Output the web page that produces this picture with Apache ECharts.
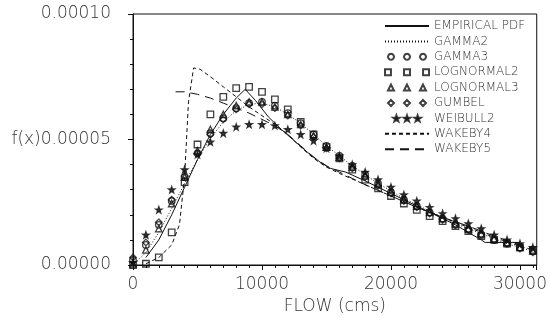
<!DOCTYPE html>
<html>
<head>
<meta charset="utf-8">
<script src="https://cdn.jsdelivr.net/npm/echarts@6/dist/echarts.min.js"></script>
<style>
  html, body { margin: 0; padding: 0; background: #fff; }
  #chart { width: 550px; height: 327px; }
</style>
</head>
<body>
<div id="chart"></div>
<script>
// flow grid (cms) for the fitted distributions, values below are f(x) in units of 1e-6
const flowGrid = [0, 1000, 2000, 3000, 4000, 5000, 6000, 7000, 8000, 9000, 10000,
  11000, 12000, 13000, 14000, 15000, 16000, 17000, 18000, 19000, 20000,
  21000, 22000, 23000, 24000, 25000, 26000, 27000, 28000, 29000, 30000, 31000];

const gamma2 = [0, 5, 13, 22.5, 32.5, 42, 50.5, 57, 61.5, 64, 64.5, 63, 60, 56.5, 52, 47.5,
  43.5, 39.5, 36, 32.5, 29.5, 26.5, 24, 21.5, 19, 16.5, 14.5, 12.5, 10.5, 8.5, 7, 5.5];
const gamma3 = [2, 8, 16, 25.5, 35, 44.5, 52.5, 58.5, 62.5, 64.5, 65, 63.5, 60.5, 56.5, 52, 47.5,
  43.5, 39.5, 36, 32.5, 29, 26, 23.5, 21, 18.5, 16, 14, 12, 10, 8.5, 7, 5.5];
const lognormal2 = [0, 0.5, 3, 13, 33, 48, 60, 67, 70.5, 71, 69, 66, 62, 57, 52, 47,
  42.5, 38, 34, 30.5, 27.5, 24.5, 22, 19.5, 17.5, 15.5, 13.5, 11.5, 10, 8.5, 7, 6];
const lognormal3 = [0.5, 6, 14.5, 24.5, 35, 45.5, 54, 60, 63.5, 65, 65, 63, 60, 56, 51.5, 47,
  43, 39, 35.5, 32, 29, 26, 23.5, 21, 18.5, 16.5, 14.5, 12.5, 10.5, 9, 7, 5.5];
const gumbel = [3, 9, 17, 26, 35.5, 44.5, 52, 58, 62, 64, 64, 62.5, 59.5, 55.5, 51, 46.5,
  42.5, 38.5, 35, 31.5, 28.5, 25.5, 23, 20.5, 18, 16, 14, 12, 10, 8.5, 6.5, 5];
const weibull2 = [1, 12, 22, 30, 38, 44, 49, 52.5, 55, 56, 56, 55.5, 54, 52, 49.5, 46.5,
  43.5, 40, 37, 34, 31, 28, 25.5, 23, 20.5, 18.5, 16.5, 14.5, 12, 10, 8.5, 7];

const empiricalFlow = [1000, 2000, 3000, 4000, 5000, 6000, 7000, 8000, 8700, 9500, 10500, 11500,
  12500, 13500, 14500, 15300, 16500, 18000, 19000, 20000, 21000, 22000, 23000, 24000, 25000,
  26000, 27000, 27300, 30000];
const empirical = [3, 10, 20, 31, 42, 52, 60, 66.5, 70, 65.5, 59, 54, 49.5, 45, 41, 38.5,
  37, 33.5, 31, 28.5, 26, 23.5, 21, 18.5, 16, 13, 10, 9, 9];

const wakeby4Flow = [1000, 2000, 3000, 3600, 4000, 4300, 4700, 5200, 6000, 7000, 8000, 9000,
  10000, 11000, 12000, 13000, 14000, 15000, 16000, 18000, 20000, 22000, 24000, 26000, 28000,
  30000, 31000];
const wakeby4 = [0.5, 3, 8, 16, 35, 65, 78.5, 78, 75, 71, 67, 63, 59.5, 56, 52, 47, 42.5, 39,
  36.5, 32, 27.5, 23, 19, 15, 11, 7.5, 6];

const wakeby5Flow = [3300, 4000, 5000, 6000, 7000, 8000, 9000, 10000, 11000, 12000, 13000,
  14000, 15000, 16000, 17000, 18000, 20000, 22000, 24000, 26000, 28000, 30000, 31000];
const wakeby5 = [69, 69, 68, 66.5, 64.5, 62.5, 60.5, 58, 55.5, 52, 47.5, 43, 39.5, 37, 34.5,
  32, 27.5, 23, 19, 15.5, 11.5, 8, 6.5];

const yTicks = [0, 0.00005, 0.0001];
const xTicks = [0, 10000, 20000, 30000];

const pairs = (xs, ys) => xs.map((x, i) => [x, ys[i] * 1e-6]);

const star = "M5,0L6.18,3.38L9.76,3.45L6.9,5.62L7.94,9.05L5,7L2.06,9.05L3.1,5.62L0.24,3.45L3.82,3.38Z";
const triple = (p, dx) => [0, dx, dx * 2].map((o) =>
  p.replace(/([ML])([\d.]+),/g, (m, c, x) => c + (parseFloat(x) + o).toFixed(2) + ",")).join("");

const icons = {
  circle: "path://" + triple("M0,3L0.4,1.5L1.5,0.4L3,0L4.5,0.4L5.6,1.5L6,3L5.6,4.5L4.5,5.6L3,6L1.5,5.6L0.4,4.5Z", 16),
  square: "path://" + triple("M0.5,0.5L5.5,0.5L5.5,5.5L0.5,5.5Z", 16),
  triangle: "path://" + triple("M3,0L6,6L0,6Z", 16),
  diamond: "path://" + triple("M3,0L6,3L3,6L0,3Z", 16),
  star: "path://" + triple(star, 16),
};

const font = "DejaVu Sans";
const ink = "#111";
const labelInk = "#333";

const markerSeries = (name, values, symbol, filled) => ({
  name,
  type: "scatter",
  data: pairs(flowGrid, values),
  symbol,
  symbolSize: 6.5,
  itemStyle: {
    color: filled ? ink : "rgba(0,0,0,0)",
    borderColor: ink,
    borderWidth: 1.3,
  },
  z: 3,
});

const lineSeries = (name, xs, ys, type) => ({
  name,
  type: "line",
  data: pairs(xs, ys),
  symbol: "none",
  lineStyle: { color: ink, width: 1, type },
  itemStyle: { color: "rgba(0,0,0,0)" },
  z: 2,
});

const chart = echarts.init(document.getElementById("chart"));

chart.setOption({
  animation: false,
  backgroundColor: "#fff",
  textStyle: { fontFamily: font },
  grid: {
    left: 133,
    right: 9,
    top: 14,
    bottom: 62,
    show: true,
    borderColor: ink,
    borderWidth: 1,
  },
  legend: {
    orient: "vertical",
    left: 384,
    top: 20,
    padding: 0,
    itemWidth: 44,
    itemHeight: 6,
    itemGap: 3.4,
    textStyle: { fontFamily: font, fontSize: 12, fontWeight: 200, color: labelInk },
    data: [
      { name: "EMPIRICAL PDF" },
      { name: "GAMMA2" },
      { name: "GAMMA3", icon: icons.circle },
      { name: "LOGNORMAL2", icon: icons.square },
      { name: "LOGNORMAL3", icon: icons.triangle },
      { name: "GUMBEL", icon: icons.diamond },
      { name: "WEIBULL2", icon: icons.star },
      { name: "WAKEBY4" },
      { name: "WAKEBY5" },
    ],
  },
  xAxis: [
    {
      type: "value",
      min: 0,
      max: 31300,
      interval: xTicks[1] - xTicks[0],
      name: "FLOW (cms)",
      nameLocation: "middle",
      nameGap: 30,
      nameTextStyle: { fontFamily: font, fontSize: 17, fontWeight: 200, color: labelInk },
      axisLine: { lineStyle: { color: ink, width: 1 } },
      axisTick: { inside: false, length: 5, lineStyle: { color: ink } },
      axisLabel: {
        margin: 11,
        fontFamily: font,
        fontSize: 17,
        fontWeight: 200,
        color: labelInk,
        formatter: (v) => (xTicks.includes(v) ? String(v) : ""),
      },
      splitLine: { show: false },
    },
    {
      type: "value",
      min: 0,
      max: 31300,
      interval: 1000,
      position: "bottom",
      axisLine: { show: false },
      axisTick: { inside: false, length: 3, lineStyle: { color: ink } },
      axisLabel: { show: false },
      splitLine: { show: false },
    },
  ],
  yAxis: {
    type: "value",
    min: yTicks[0],
    max: yTicks[2],
    interval: yTicks[1],
    axisLine: { show: true, lineStyle: { color: ink, width: 1 } },
    axisTick: { show: true, inside: false, length: 5, lineStyle: { color: ink } },
    minorTick: { show: true, splitNumber: 5, length: 3, lineStyle: { color: ink } },
    splitLine: { show: false },
    axisLabel: {
      margin: 22,
      fontFamily: font,
      fontSize: 17,
      fontWeight: 200,
      color: labelInk,
      formatter: (v) => (Math.abs(v - yTicks[1]) < 1e-9 ? "f(x)" : "") + v.toFixed(5),
    },
  },
  series: [
    lineSeries("EMPIRICAL PDF", empiricalFlow, empirical, "solid"),
    lineSeries("GAMMA2", flowGrid, gamma2, [1, 2]),
    markerSeries("GAMMA3", gamma3, "circle", false),
    markerSeries("LOGNORMAL2", lognormal2, "rect", false),
    markerSeries("LOGNORMAL3", lognormal3, "triangle", false),
    markerSeries("GUMBEL", gumbel, "diamond", false),
    markerSeries("WEIBULL2", weibull2, "path://" + star, true),
    lineSeries("WAKEBY4", wakeby4Flow, wakeby4, [4, 3]),
    lineSeries("WAKEBY5", wakeby5Flow, wakeby5, [9, 6]),
  ],
});
</script>
</body>
</html>
